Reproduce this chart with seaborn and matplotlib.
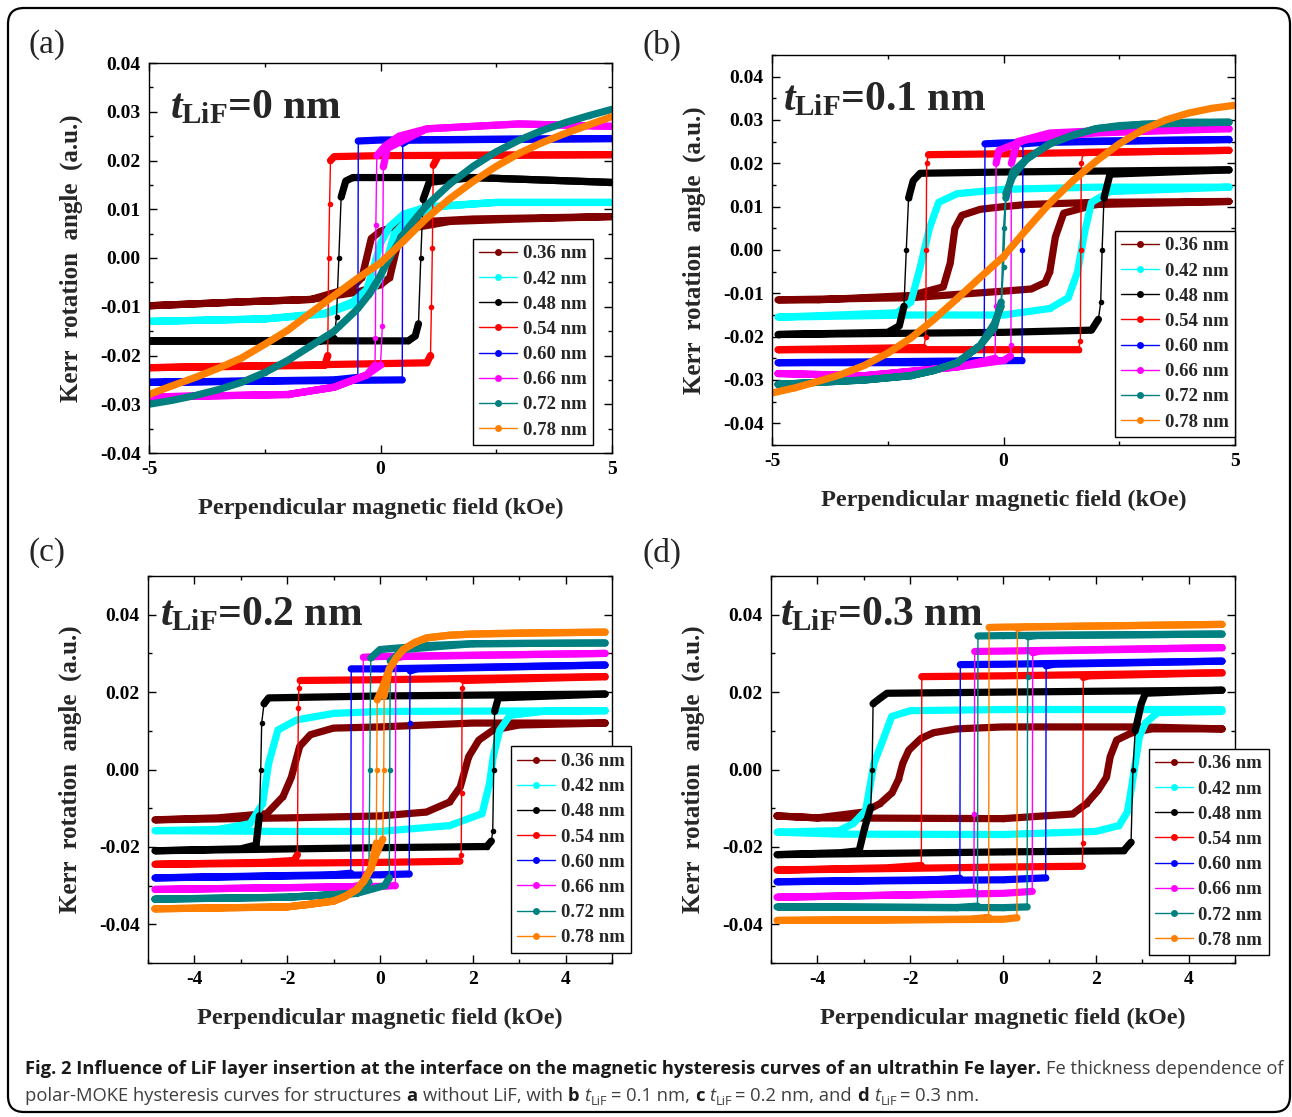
import matplotlib
matplotlib.use('Agg')
import pandas as pd
import numpy as np
import matplotlib.pyplot as plt
import seaborn as sns
from matplotlib.lines import Line2D
from matplotlib.patches import FancyBboxPatch
from matplotlib.ticker import MultipleLocator, FormatStrFormatter
from matplotlib.transforms import IdentityTransform
from matplotlib import font_manager

sns.set_style('ticks')
plt.rcParams['font.family'] = ['Liberation Serif', 'DejaVu Serif']
plt.rcParams['font.weight'] = 'bold'
plt.rcParams['axes.unicode_minus'] = False
plt.rcParams['mathtext.fontset'] = 'custom'
plt.rcParams['mathtext.rm'] = 'Liberation Serif:bold'
plt.rcParams['mathtext.it'] = 'Liberation Serif:italic:bold'
plt.rcParams['mathtext.bf'] = 'Liberation Serif:bold'

# Fe thickness of each curve and Origin-like colours
labels = ['0.36 nm', '0.42 nm', '0.48 nm', '0.54 nm', '0.60 nm', '0.66 nm', '0.72 nm', '0.78 nm']
colors = ['#800000', '#00FFFF', '#000000', '#FF0000', '#0000FF', '#FF00FF', '#008080', '#FF8000']

# ---- loops: (H kOe, Kerr a.u.) going round the loop ----
# (a) t_LiF = 0 nm
a36 = [(5, 0.0085), (2, 0.008), (1, 0.0075), (0.5, 0.007), (0, 0.0055), (-0.2, 0.004), (-0.3, 0.0),
       (-0.4, -0.004), (-0.6, -0.006), (-1.5, -0.0085), (-3, -0.009), (-5, -0.0098),
       (-3, -0.009), (-1.5, -0.0085), (-0.5, -0.007), (0, -0.0055), (0.2, -0.004), (0.3, 0.0),
       (0.4, 0.004), (0.6, 0.006), (1.5, 0.0075), (3, 0.008), (5, 0.0085)]
a42 = [(5, 0.0114), (2.5, 0.0114), (1, 0.0105), (0.5, 0.009), (0.2, 0.0065), (0, 0.003), (-0.15, -0.002),
       (-0.3, -0.0065), (-0.6, -0.009), (-1.2, -0.0113), (-2.5, -0.0125), (-5, -0.013),
       (-2.5, -0.0125), (-1.2, -0.0115), (-0.6, -0.0095), (-0.2, -0.007), (0, -0.004), (0.15, 0.0),
       (0.3, 0.005), (0.6, 0.008), (1.2, 0.0105), (2.5, 0.0114), (5, 0.0114)]
a48 = [(5, 0.0155), (2, 0.0165), (-0.6, 0.0165), (-0.75, 0.0158), (-0.85, 0.0125), (-0.9, 0.0),
       (-0.95, -0.012), (-1.0, -0.0165), (-1.3, -0.017), (-5, -0.017),
       (0.6, -0.017), (0.75, -0.016), (0.82, -0.0135), (0.87, 0.0), (0.92, 0.012), (1.05, 0.0155),
       (2, 0.0165), (5, 0.0155)]
a54 = [(5, 0.0212), (0, 0.021), (-1.0, 0.0208), (-1.08, 0.02), (-1.1, 0.011), (-1.12, 0.0),
       (-1.14, -0.02), (-1.2, -0.022), (-5, -0.0225),
       (1.0, -0.0215), (1.08, -0.02), (1.1, -0.01), (1.12, 0.002), (1.14, 0.019), (1.25, 0.021), (5, 0.0212)]
a60 = [(5, 0.0245), (0, 0.0242), (-0.48, 0.024), (-0.49, -0.0245), (-1, -0.025), (-5, -0.0255),
       (0.47, -0.025), (0.48, 0.0235), (0.6, 0.0242), (5, 0.0245)]
a66 = [(5, 0.027), (3, 0.0275), (1, 0.0265), (0.4, 0.025), (0.1, 0.023), (-0.08, 0.021), (-0.1, 0.0068),
       (-0.11, -0.0165), (-0.12, -0.022), (-0.3, -0.024), (-1, -0.0265), (-2, -0.028), (-5, -0.0285),
       (-2, -0.028), (-1, -0.0265), (-0.3, -0.024), (0.0, -0.022), (0.04, -0.014), (0.05, 0.0),
       (0.06, 0.0187), (0.15, 0.0225), (1, 0.0265), (3, 0.0275), (5, 0.027)]
a72 = [(-5, -0.030), (-4.5, -0.0292), (-4, -0.0282), (-3.5, -0.027), (-3, -0.0255), (-2.5, -0.0235),
       (-2, -0.021), (-1.5, -0.018), (-1, -0.015), (-0.5, -0.0105), (-0.25, -0.0075), (0, -0.0035),
       (0.25, 0.001), (0.5, 0.005), (0.75, 0.008), (1, 0.0108), (1.5, 0.0152), (2, 0.0188), (2.5, 0.0218),
       (3, 0.0242), (3.5, 0.0262), (4, 0.0278), (4.5, 0.0292), (5, 0.0305)]
a78 = [(-5, -0.028), (-4.5, -0.0262), (-4, -0.0245), (-3.5, -0.0226), (-3, -0.0205), (-2.5, -0.0177),
       (-2, -0.0148), (-1.5, -0.0112), (-1, -0.0077), (-0.5, -0.0042), (0, -0.001), (0.5, 0.0035),
       (1, 0.0082), (1.5, 0.0122), (2, 0.0157), (2.5, 0.0188), (3, 0.0215), (3.5, 0.0237), (4, 0.0256),
       (4.5, 0.0273), (5, 0.029)]

# (b) t_LiF = 0.1 nm
b36 = [(4.87, 0.0112), (2, 0.011), (0.5, 0.0105), (0, 0.010), (-0.5, 0.0094), (-0.9, 0.008), (-1.05, 0.005),
       (-1.15, -0.003), (-1.3, -0.0085), (-2, -0.0105), (-4, -0.0115), (-4.87, -0.0115),
       (-2, -0.011), (0, -0.0095), (0.6, -0.009), (0.9, -0.0075), (1.0, -0.005), (1.12, 0.003),
       (1.3, 0.0085), (2, 0.0105), (4.87, 0.0112)]
b42 = [(4.87, 0.0145), (2, 0.0145), (0, 0.014), (-1, 0.013), (-1.4, 0.011), (-1.6, 0.005), (-1.8, -0.004),
       (-2.0, -0.012), (-2.3, -0.0145), (-4.87, -0.0155),
       (-2, -0.015), (0, -0.015), (1, -0.0135), (1.4, -0.011), (1.6, -0.005), (1.75, 0.004), (1.9, 0.011),
       (2.3, 0.0135), (4.87, 0.0145)]
b48 = [(4.87, 0.0185), (0, 0.018), (-1.8, 0.0177), (-1.95, 0.016), (-2.05, 0.012), (-2.1, 0.0),
       (-2.15, -0.013), (-2.25, -0.0175), (-2.5, -0.019), (-4.87, -0.0195),
       (0, -0.019), (1.9, -0.0185), (2.05, -0.016), (2.1, -0.012), (2.13, 0.0), (2.17, 0.012),
       (2.3, 0.0175), (4.87, 0.0185)]
b54 = [(4.87, 0.023), (0, 0.0222), (-1.62, 0.022), (-1.66, 0.02), (-1.67, 0.0), (-1.68, -0.02),
       (-1.72, -0.0225), (-4.87, -0.023),
       (0, -0.023), (1.62, -0.023), (1.66, -0.021), (1.67, 0.0), (1.68, 0.02), (1.72, 0.0225), (4.87, 0.023)]
b60 = [(4.87, 0.0255), (0, 0.0247), (-0.4, 0.0245), (-0.41, -0.005), (-0.42, -0.0255), (-1, -0.026),
       (-4.87, -0.026),
       (0.4, -0.0255), (0.41, 0.0), (0.42, 0.0245), (1, 0.025), (4.87, 0.0255)]
b66 = [(4.87, 0.028), (2, 0.027), (0.5, 0.0255), (-0.1, 0.023), (-0.16, 0.02), (-0.17, -0.013),
       (-0.18, -0.025), (-1, -0.027), (-3, -0.029), (-4.87, -0.0285),
       (-3, -0.029), (-1, -0.027), (0, -0.0255), (0.15, -0.0245), (0.16, -0.022), (0.17, 0.02),
       (0.3, 0.025), (1, 0.027), (3, 0.028), (4.87, 0.028)]
b72 = [(4.87, 0.0295), (4, 0.0295), (3, 0.029), (2.5, 0.0287), (2, 0.028), (1.5, 0.0265), (1, 0.0245),
       (0.5, 0.021), (0.2, 0.017), (0.05, 0.013), (0.0, 0.005), (-0.05, -0.012), (-0.2, -0.018),
       (-0.5, -0.022), (-1, -0.026), (-1.5, -0.0278), (-2, -0.029), (-3, -0.030), (-4.87, -0.031),
       (-3, -0.030), (-2, -0.029), (-1.5, -0.0278), (-1, -0.026), (-0.5, -0.022), (-0.2, -0.017),
       (-0.05, -0.013), (0.0, -0.004), (0.05, 0.012), (0.2, 0.018), (0.5, 0.021), (1, 0.0245),
       (1.5, 0.0265), (2, 0.028), (3, 0.029), (4.87, 0.0295)]
b78 = [(-5, -0.033), (-4.5, -0.0318), (-4, -0.0303), (-3.5, -0.0287), (-3, -0.0266), (-2.5, -0.0238),
       (-2, -0.0203), (-1.5, -0.016), (-1, -0.0112), (-0.5, -0.0063), (0, -0.0015), (0.5, 0.0048),
       (1, 0.0108), (1.5, 0.016), (2, 0.0205), (2.5, 0.0245), (3, 0.0277), (3.5, 0.030), (4, 0.0316),
       (4.5, 0.0327), (5, 0.0334)]

# (c) t_LiF = 0.2 nm
c36 = [(4.85, 0.012), (2, 0.012), (0, 0.011), (-1, 0.0107), (-1.5, 0.009), (-1.73, 0.006), (-1.91, -0.002),
       (-2.09, -0.007), (-2.44, -0.0114), (-3.5, -0.0125), (-4.85, -0.013),
       (-2, -0.0125), (0, -0.012), (1, -0.011), (1.5, -0.0084), (1.73, -0.0045), (1.91, 0.0033),
       (2.13, 0.0076), (2.44, 0.0102), (3, 0.0115), (4.85, 0.012)]
c42 = [(4.85, 0.0152), (0, 0.015), (-1, 0.0145), (-1.8, 0.0128), (-2.2, 0.0102), (-2.4, 0.0016),
       (-2.53, -0.0088), (-2.8, -0.014), (-3.5, -0.0155), (-4.85, -0.0158),
       (-2, -0.016), (0, -0.016), (1.5, -0.0145), (2.2, -0.0114), (2.36, -0.0036), (2.44, 0.0033),
       (2.58, 0.0102), (2.8, 0.014), (3.5, 0.015), (4.85, 0.0152)]
c48 = [(4.85, 0.0195), (0, 0.019), (-2.4, 0.0185), (-2.5, 0.017), (-2.55, 0.012), (-2.57, 0.0),
       (-2.6, -0.012), (-2.67, -0.0195), (-3, -0.0205), (-4.85, -0.021),
       (0, -0.0202), (2.3, -0.0199), (2.4, -0.0185), (2.43, -0.016), (2.45, 0.0), (2.47, 0.015),
       (2.55, 0.0185), (4.85, 0.0195)]
c54 = [(4.85, 0.024), (0, 0.0232), (-1.72, 0.023), (-1.75, 0.021), (-1.76, 0.016), (-1.78, -0.022),
       (-1.85, -0.0235), (-2.5, -0.024), (-4.85, -0.0245),
       (0, -0.024), (1.72, -0.0237), (1.75, -0.022), (1.76, -0.006), (1.77, 0.021), (1.8, 0.023), (4.85, 0.024)]
c60 = [(4.85, 0.027), (0, 0.026), (-0.62, 0.026), (-0.63, -0.0268), (-1, -0.0272), (-4.85, -0.028),
       (0, -0.0272), (0.63, -0.027), (0.64, 0.012), (0.65, 0.0255), (0.8, 0.026), (4.85, 0.027)]
c66 = [(4.85, 0.030), (0, 0.0292), (-0.36, 0.029), (-0.37, -0.0298), (-0.6, -0.0303), (-4.85, -0.031),
       (0, -0.0302), (0.33, -0.030), (0.34, 0.0288), (0.5, 0.0292), (4.85, 0.030)]
c72 = [(4.85, 0.0327), (2, 0.0325), (1, 0.032), (0, 0.031), (-0.2, 0.0288), (-0.22, 0.0), (-0.24, -0.029),
       (-0.5, -0.032), (-2, -0.033), (-4.85, -0.0335),
       (-2, -0.033), (-0.5, -0.032), (0.1, -0.030), (0.2, -0.028), (0.21, 0.0), (0.22, 0.028), (0.5, 0.031),
       (2, 0.0325), (4.85, 0.0327)]
c78 = [(4.85, 0.0355), (3, 0.0353), (2, 0.035), (1.5, 0.0347), (1, 0.034), (0.75, 0.0328), (0.5, 0.031),
       (0.35, 0.0288), (0.2, 0.026), (0.05, 0.021), (-0.06, 0.018), (-0.07, 0.0), (-0.08, -0.019),
       (-0.2, -0.0257), (-0.35, -0.0288), (-0.5, -0.031), (-0.75, -0.0328), (-1, -0.034), (-1.5, -0.0348),
       (-2, -0.0355), (-4.85, -0.036),
       (-2, -0.0355), (-1.5, -0.0348), (-1, -0.034), (-0.75, -0.0328), (-0.5, -0.031), (-0.35, -0.0288),
       (-0.2, -0.0257), (-0.05, -0.021), (0.06, -0.018), (0.08, 0.0), (0.09, 0.019), (0.2, 0.026),
       (0.35, 0.0288), (0.5, 0.031), (0.75, 0.0328), (1, 0.034), (1.5, 0.0347), (2, 0.035), (4.85, 0.0355)]

# (d) t_LiF = 0.3 nm
d36 = [(4.72, 0.0105), (3, 0.011), (0, 0.011), (-1, 0.0105), (-1.5, 0.0095), (-1.77, 0.008), (-2.03, 0.005),
       (-2.16, 0.0016), (-2.25, -0.0025), (-2.39, -0.006), (-2.65, -0.0088), (-3.0, -0.011), (-4, -0.0125),
       (-4.87, -0.012),
       (-4, -0.0125), (0, -0.0127), (1.5, -0.0115), (1.8, -0.0088), (2.05, -0.0054), (2.23, -0.002),
       (2.31, 0.0033), (2.45, 0.0076), (2.76, 0.0094), (3.2, 0.0105), (4.72, 0.0105)]
d42 = [(4.72, 0.0155), (0, 0.0155), (-2, 0.0152), (-2.4, 0.0137), (-2.56, 0.0085), (-2.78, 0.0016),
       (-2.87, -0.0045), (-2.96, -0.0106), (-3.23, -0.014), (-3.54, -0.0158), (-4.87, -0.0162),
       (-3.5, -0.0167), (0, -0.0168), (2, -0.016), (2.5, -0.0145), (2.68, -0.011), (2.76, -0.0054),
       (2.85, 0.0016), (2.94, 0.0085), (3.07, 0.012), (3.33, 0.0147), (4.72, 0.015)]
d48 = [(4.72, 0.0205), (0, 0.020), (-2.5, 0.0197), (-2.65, 0.0184), (-2.8, 0.017), (-2.82, 0.0),
       (-2.85, -0.0097), (-2.98, -0.015), (-3.1, -0.021), (-3.5, -0.0215), (-4.87, -0.022),
       (0, -0.0213), (2.6, -0.021), (2.76, -0.0188), (2.8, 0.0), (2.85, 0.01), (2.98, 0.017),
       (3.07, 0.0197), (4.72, 0.0205)]
d54 = [(4.72, 0.025), (0, 0.0242), (-1.75, 0.024), (-1.76, -0.0248), (-2.5, -0.0254), (-4.87, -0.026),
       (0, -0.0252), (1.71, -0.025), (1.72, -0.019), (1.73, 0.0238), (1.85, 0.0242), (4.72, 0.025)]
d60 = [(4.72, 0.028), (0, 0.0272), (-0.92, 0.0271), (-0.93, -0.0281), (-1.5, -0.0285), (-4.87, -0.029),
       (0, -0.0285), (0.92, -0.028), (0.93, 0.0268), (1.1, 0.0272), (4.72, 0.028)]
d66 = [(4.72, 0.0315), (0, 0.0306), (-0.61, 0.0305), (-0.62, -0.0115), (-0.63, -0.0317), (-1.2, -0.0322),
       (-4.87, -0.033),
       (0, -0.032), (0.63, -0.0315), (0.64, 0.0302), (0.8, 0.0306), (4.72, 0.0315)]
d72 = [(4.72, 0.035), (0, 0.0346), (-0.54, 0.0345), (-0.55, -0.0353), (-1, -0.0357), (-4.87, -0.0355),
       (0, -0.0357), (0.52, -0.0355), (0.53, 0.024), (0.54, 0.0343), (0.7, 0.0346), (4.72, 0.035)]
d78 = [(4.72, 0.0375), (0, 0.0368), (-0.3, 0.0367), (-0.31, -0.0382), (-0.7, -0.0387), (-4.87, -0.039),
       (0, -0.0387), (0.3, -0.0383), (0.31, 0.0365), (0.45, 0.0368), (4.72, 0.0375)]

loops_a = [a36, a42, a48, a54, a60, a66, a72, a78]
loops_b = [b36, b42, b48, b54, b60, b66, b72, b78]
loops_c = [c36, c42, c48, c54, c60, c66, c72, c78]
loops_d = [d36, d42, d48, d54, d60, d66, d72, d78]

panel_tags = ['(a)', '(b)', '(c)', '(d)']
tlif_texts = [r'$t_{\mathrm{LiF}}$=0 nm', r'$t_{\mathrm{LiF}}$=0.1 nm',
              r'$t_{\mathrm{LiF}}$=0.2 nm', r'$t_{\mathrm{LiF}}$=0.3 nm']

# ---- layout (pixel measured) ----
W, H = 1292, 1117
fig = plt.figure(figsize=(W / 100, H / 100), dpi=100)
fig.patch.set_facecolor('white')


def px_axes(l, r, t, b):
    return [l / W, (H - b) / H, (r - l) / W, (b - t) / H]


panels = [
    dict(loops=loops_a, rect=px_axes(149, 612, 63, 453), ylim=0.04, xmaj=5, xmin=2.5, ymaj=0.01, ymin=0.005,
         leg=(0.959, 0.02), anno=(0.045, 0.859), tag=(28, 45)),
    dict(loops=loops_b, rect=px_axes(772, 1235, 55, 445), ylim=0.045, xmaj=5, xmin=2.5, ymaj=0.01, ymin=0.005,
         leg=(1.0, 0.02), anno=(0.024, 0.859), tag=(643, 45)),
    dict(loops=loops_c, rect=px_axes(148, 612, 576, 963), ylim=0.05, xmaj=2, xmin=1, ymaj=0.02, ymin=0.01,
         leg=(1.041, 0.026), anno=(0.026, 0.873), tag=(28, 553)),
    dict(loops=loops_d, rect=px_axes(771, 1235, 576, 963), ylim=0.05, xmaj=2, xmin=1, ymaj=0.02, ymin=0.01,
         leg=(1.073, 0.02), anno=(0.019, 0.873), tag=(643, 553)),
]


def thick_runs(df):
    # slow parts of a loop are drawn as a thick band, abrupt jumps stay thin
    h = df['H'].to_numpy()
    slow = np.abs(np.diff(h)) >= 0.06
    rows, seg, i = [], 0, 0
    while i < len(slow):
        if slow[i]:
            j = i
            while j < len(slow) and slow[j]:
                j += 1
            part = df.iloc[i:j + 1].copy()
            part['seg'] = seg
            rows.append(part)
            seg += 1
            i = j
        else:
            i += 1
    return pd.concat(rows, ignore_index=True) if rows else None


for k, p in enumerate(panels):
    ax = fig.add_axes(p['rect'])
    for pts, col in zip(p['loops'], colors):
        df = pd.DataFrame(pts, columns=['H', 'M'])
        band = thick_runs(df)
        if band is not None:
            sns.lineplot(data=band, x='H', y='M', units='seg', estimator=None, sort=False,
                         color=col, lw=5.2, ax=ax, legend=False)
        sns.lineplot(data=df, x='H', y='M', estimator=None, sort=False, color=col, lw=1.0,
                     marker='o', markersize=4, markeredgewidth=0, ax=ax, legend=False)

    ax.set_xlim(-5, 5)
    ax.set_ylim(-p['ylim'], p['ylim'])
    ax.xaxis.set_major_locator(MultipleLocator(p['xmaj']))
    ax.xaxis.set_minor_locator(MultipleLocator(p['xmin']))
    ax.yaxis.set_major_locator(MultipleLocator(p['ymaj']))
    ax.yaxis.set_minor_locator(MultipleLocator(p['ymin']))
    ax.yaxis.set_major_formatter(FormatStrFormatter('%.2f'))
    ax.xaxis.set_major_formatter(FormatStrFormatter('%g'))
    ax.tick_params(which='both', direction='in', top=True, right=True, width=1.0, colors='black')
    ax.tick_params(which='major', length=6, labelsize=14, pad=6)
    ax.tick_params(which='minor', length=3)
    for lab in ax.get_xticklabels() + ax.get_yticklabels():
        lab.set_fontweight('bold')
    for sp in ax.spines.values():
        sp.set_linewidth(1.0)
        sp.set_color('black')

    ax.set_xlabel('Perpendicular magnetic field (kOe)', fontsize=17.5, fontweight='bold', labelpad=14)
    ax.set_ylabel('Kerr  rotation  angle  (a.u.)', fontsize=18, fontweight='bold', labelpad=12)

    ax.text(p['anno'][0], p['anno'][1], tlif_texts[k], transform=ax.transAxes, fontsize=30,
            fontweight='bold', ha='left', va='baseline')

    handles = [Line2D([], [], color=c, lw=1.0, marker='o', markersize=5, markeredgewidth=0) for c in colors]
    leg = ax.legend(handles, labels, loc='lower right', bbox_to_anchor=p['leg'], borderaxespad=0,
                    frameon=True, fancybox=False, edgecolor='black', framealpha=1,
                    prop={'family': 'Liberation Serif', 'weight': 'bold', 'size': 13.5},
                    labelspacing=0.43, handlelength=2.0, handletextpad=0.3, borderpad=0.35)
    leg.get_frame().set_linewidth(1.0)

    tx, ty = p['tag']
    fig.text(tx / W, 1 - ty / H, panel_tags[k], fontsize=24, fontweight='normal', ha='left', va='center')

# ---- outer rounded border ----
border = FancyBboxPatch((8, 5), 1282, 1104, boxstyle='round,pad=0,rounding_size=16',
                        transform=IdentityTransform(), fill=False, ec='black', lw=1.6)
fig.add_artist(border)

# ---- caption ----
names = {f.name for f in font_manager.fontManager.ttflist}
cap_font = 'Liberation Sans Narrow' if 'Liberation Sans Narrow' in names else 'Open Sans'
renderer = fig.canvas.get_renderer()
dark, grey = '#1a1a1a', '#3f3f3f'

line1 = [('Fig. 2 Influence of LiF layer insertion at the interface on the magnetic hysteresis curves '
          'of an ultrathin Fe layer.', 'bold', 'normal', 1.0, False, 0.0, dark),
         ('Fe thickness dependence of', 'normal', 'normal', 1.0, False, 0.28, grey)]
line2 = [('polar-MOKE hysteresis curves for structures', 'normal', 'normal', 1.0, False, 0.0, grey),
         ('a', 'bold', 'normal', 1.0, False, 0.28, dark),
         ('without LiF, with', 'normal', 'normal', 1.0, False, 0.28, grey),
         ('b', 'bold', 'normal', 1.0, False, 0.28, dark),
         ('t', 'normal', 'italic', 1.0, False, 0.28, grey),
         ('LiF', 'normal', 'normal', 0.7, True, 0.03, grey),
         ('= 0.1 nm,', 'normal', 'normal', 1.0, False, 0.15, grey),
         ('c', 'bold', 'normal', 1.0, False, 0.28, dark),
         ('t', 'normal', 'italic', 1.0, False, 0.28, grey),
         ('LiF', 'normal', 'normal', 0.7, True, 0.03, grey),
         ('= 0.2 nm, and', 'normal', 'normal', 1.0, False, 0.15, grey),
         ('d', 'bold', 'normal', 1.0, False, 0.28, dark),
         ('t', 'normal', 'italic', 1.0, False, 0.28, grey),
         ('LiF', 'normal', 'normal', 0.7, True, 0.03, grey),
         ('= 0.3 nm.', 'normal', 'normal', 1.0, False, 0.15, grey)]


def draw_line(runs, x0, y0, size):
    arts, x = [], x0
    em = size * fig.dpi / 72
    for text, weight, style, scale, sub, gap, col in runs:
        x += gap * em
        t = fig.text(x, y0 - (0.22 * em if sub else 0), text, transform=IdentityTransform(),
                     fontsize=size * scale, fontweight=weight, fontstyle=style, family=cap_font,
                     color=col, ha='left', va='baseline')
        x = t.get_window_extent(renderer).x1
        arts.append(t)
    return arts, x - x0


trial, width = draw_line(line1, 25, H - 1074, 13)
for t in trial:
    t.remove()
cap_size = 13 * 1255 / width
draw_line(line1, 25, H - 1074, cap_size)
draw_line(line2, 25, H - 1101, cap_size)

fig.savefig('out.png', dpi=100, facecolor='white')
